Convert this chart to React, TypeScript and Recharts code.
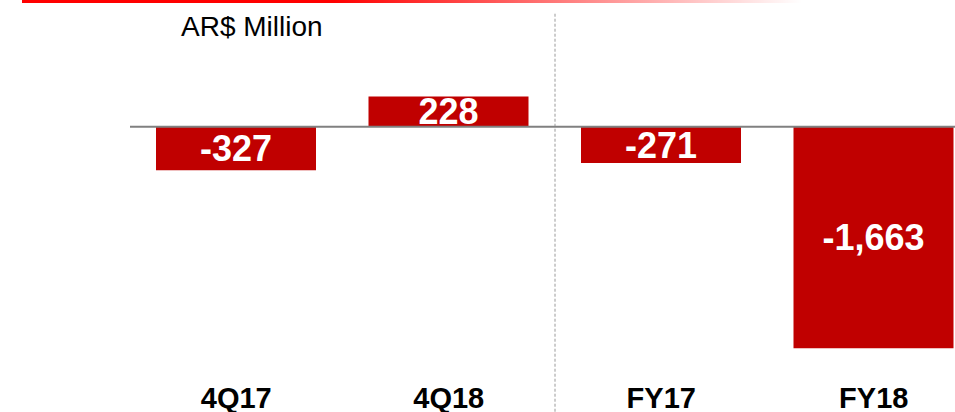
import React from 'react';
import { BarChart, Bar, XAxis, YAxis, ReferenceLine, LabelList } from 'recharts';

const categories = ['4Q17', '4Q18', 'FY17', 'FY18'];
const values = [-327, 228, -271, -1663];
const unitLabel = 'AR$ Million';

const data = categories.map((name, i) => ({ name, value: values[i] }));

const FONT = "'Liberation Sans', Arial, sans-serif";

const CategoryTick = (props: any) => {
  const { x, y, payload } = props;
  return (
    <text x={x} y={y} dy={15} textAnchor="middle" fontFamily={FONT} fontWeight="bold" fontSize={29} fill="#000">
      {payload.value}
    </text>
  );
};

const fmt = (v: any) => Number(v).toLocaleString('en-US');

export default function App() {
  return (
    <div style={{ position: 'absolute', left: 0, top: 0, width: 955, height: 412, overflow: 'hidden', background: '#fff' }}>
      <div
        style={{
          position: 'absolute',
          left: 22,
          top: 0,
          width: 780,
          height: 3,
          background: 'linear-gradient(to right, #ff0000 0%, #ff0000 40%, rgba(255,0,0,0) 100%)',
        }}
      />
      <svg width={955} height={412} style={{ position: 'absolute', left: 0, top: 0, pointerEvents: 'none' }}>
        <text x={181} y={36} fontFamily={FONT} fontSize={28} fill="#000">
          {unitLabel}
        </text>
      </svg>
      <div style={{ position: 'absolute', left: 0, top: 0 }}>
        <BarChart width={980} height={412} data={data} margin={{ top: 47, right: 0, left: 130, bottom: 0 }}>
          <XAxis
            dataKey="name"
            axisLine={false}
            tickLine={false}
            tickSize={0}
            tickMargin={0}
            height={19}
            interval={0}
            tick={<CategoryTick />}
          />
          <YAxis hide domain={[-2000, 600]} />
          <ReferenceLine
            segment={[{ x: '4Q18', y: 850 }, { x: '4Q18', y: -2200 }]}
            position="end"
            ifOverflow="visible"
            stroke="#9a9a9a"
            strokeWidth={1}
            strokeDasharray="3 2"
          />
          <Bar dataKey="value" fill="#c00000" barSize={160} isAnimationActive={false}>
            <LabelList
              dataKey="value"
              position="center"
              formatter={fmt}
              fill="#ffffff"
              fontFamily={FONT}
              fontWeight="bold"
              fontSize={36}
            />
          </Bar>
          <ReferenceLine y={0} stroke="#808080" strokeWidth={2} ifOverflow="visible" />
        </BarChart>
      </div>
    </div>
  );
}
